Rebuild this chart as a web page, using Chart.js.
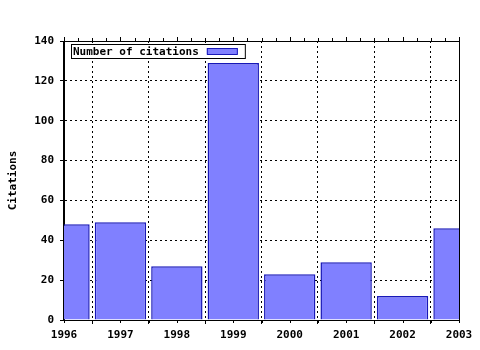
<!DOCTYPE html>
<html>
<head>
<meta charset="utf-8">
<script src="https://cdn.jsdelivr.net/npm/chart.js@4/dist/chart.umd.min.js"></script>
<style>
html,body{margin:0;padding:0;background:#fff;}
#wrap{width:480px;height:350px;position:relative;}
</style>
</head>
<body>
<div id="wrap"><canvas id="c" width="480" height="350"></canvas></div>
<script>
const years = [1996, 1997, 1998, 1999, 2000, 2001, 2002, 2003];
const citations = [48, 49, 27, 129, 23, 29, 12, 46];
const seriesLabel = 'Number of citations';
const yTicks = [0, 20, 40, 60, 80, 100, 120, 140];
const yTitle = 'Citations';

const FONT = {family: '"DejaVu Sans Mono", "Liberation Mono", monospace', size: 11, weight: 'bold'};

const framePlugin = {
  id: 'frame',
  afterDraw(chart) {
    const {ctx, chartArea: a, scales: {x}} = chart;
    ctx.save();
    ctx.setLineDash([]);
    ctx.strokeStyle = '#000';
    ctx.lineWidth = 1;
    ctx.beginPath();
    ctx.moveTo(a.left, a.top + 0.5); ctx.lineTo(a.right + 0.5, a.top + 0.5);
    ctx.moveTo(a.right + 0.5, a.top); ctx.lineTo(a.right + 0.5, a.bottom + 1);
    ctx.moveTo(a.left - 0.5, a.top); ctx.lineTo(a.left - 0.5, a.bottom + 1);
    ctx.moveTo(a.left - 1, a.bottom + 0.5); ctx.lineTo(a.right + 1, a.bottom + 0.5);
    for (let v = x.min; v <= x.max + 1e-9; v += 0.25) {
      const px = Math.round(x.getPixelForValue(v)) + 0.5;
      const major = Math.abs(v - Math.round(v)) < 1e-6;
      ctx.moveTo(px, a.top); ctx.lineTo(px, a.top - (major ? 4 : 3));
    }
    for (let v = x.min; v <= x.max + 1e-9; v += 0.5) {
      const px = Math.round(x.getPixelForValue(v)) + 0.5;
      ctx.moveTo(px, a.bottom); ctx.lineTo(px, a.bottom + 3);
    }
    ctx.stroke();
    const ds = chart.data.datasets[0];
    ctx.font = 'bold 11px "DejaVu Sans Mono", monospace';
    ctx.textBaseline = 'middle';
    ctx.textAlign = 'left';
    const bx = a.left + 7, by = a.top + 3;
    const tw = ctx.measureText(ds.label).width;
    const bw = tw + 48, bh = 14;
    ctx.fillStyle = '#fff';
    ctx.fillRect(bx, by, bw, bh);
    ctx.strokeRect(bx + 0.5, by + 0.5, bw, bh);
    ctx.fillStyle = '#000';
    ctx.fillText(ds.label, bx + 2, by + bh / 2 + 1);
    const sx = bx + bw - 38;
    ctx.fillStyle = ds.backgroundColor;
    ctx.fillRect(sx, by + 4, 31, 6);
    ctx.strokeStyle = ds.borderColor;
    ctx.strokeRect(sx + 0.5, by + 4.5, 30, 6);
    ctx.restore();
  }
};

new Chart(document.getElementById('c'), {
  type: 'bar',
  data: {
    datasets: [{
      label: seriesLabel,
      data: years.map((y, i) => ({x: y, y: citations[i]})),
      backgroundColor: '#8080ff',
      borderColor: '#1818b8',
      borderWidth: 1.5,
      borderSkipped: 'start',
      barPercentage: 0.91,
      categoryPercentage: 1,
      clip: 0
    }]
  },
  options: {
    responsive: false,
    animation: false,
    devicePixelRatio: 1,
    layout: {padding: {top: 41, right: 21, left: 0, bottom: 0}},
    plugins: {legend: {display: false}, tooltip: {enabled: false}},
    scales: {
      x: {
        type: 'linear',
        offset: false,
        min: years[0],
        max: years[years.length - 1],
        afterBuildTicks(s) { s.ticks = years.map(v => ({value: v})); },
        afterFit(s) { s.height = 30; },
        ticks: {
          color: '#000', font: FONT, padding: 5,
          maxRotation: 0, autoSkip: false,
          callback: v => String(v)
        },
        grid: {
          color: '#000', lineWidth: 1,
          drawTicks: true, tickLength: 4, tickColor: '#000', tickBorderDash: []
        },
        border: {display: true, color: '#000', width: 1, dash: [2, 3]}
      },
      y: {
        min: 0,
        max: 140,
        afterBuildTicks(s) { s.ticks = yTicks.map(v => ({value: v})); },
        afterFit(s) { s.width = 64; },
        ticks: {color: '#000', font: FONT, padding: 6},
        grid: {
          color: '#000', lineWidth: 1,
          drawTicks: true, tickLength: 4, tickColor: '#000', tickBorderDash: []
        },
        border: {display: true, color: '#000', width: 1, dash: [2, 3]},
        title: {display: true, text: yTitle, color: '#000', font: FONT, padding: {top: 7, bottom: 0}}
      }
    }
  },
  plugins: [framePlugin]
});
</script>
</body>
</html>
